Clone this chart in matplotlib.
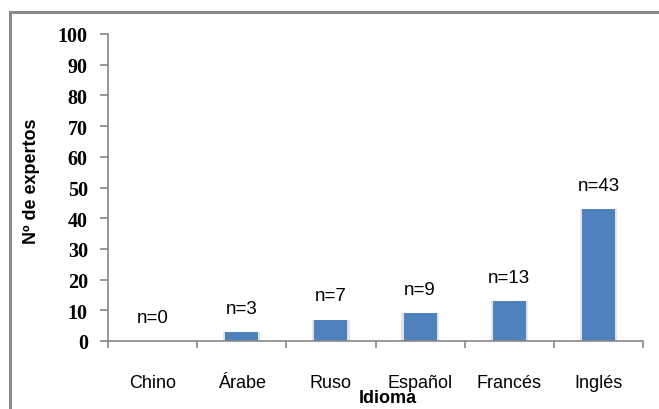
import matplotlib
matplotlib.use("Agg")
import matplotlib.pyplot as plt
from matplotlib.lines import Line2D

idiomas = ["Chino", "Árabe", "Ruso", "Español", "Francés", "Inglés"]
expertos = [0, 3, 7, 9, 13, 43]
etiquetas = [f"n={v}" for v in expertos]

BAR_COLOR = "#4F81BD"
AXIS_COLOR = "#868686"
W, H = 659, 410

fig = plt.figure(figsize=(W / 100, H / 100), dpi=100)
ax = fig.add_axes([108 / W, 68 / H, 535 / W, 307 / H])

x = range(len(idiomas))
# soft shadow behind the bars
ax.bar(x, expertos, width=0.42, color="#e4e4e4", zorder=1)
ax.bar(x, expertos, width=0.37, color=BAR_COLOR, zorder=2)

for i, (v, lab) in enumerate(zip(expertos, etiquetas)):
    ax.annotate(lab, (i, v), xytext=(0, 17), textcoords="offset points",
                ha="center", va="center", fontsize=13.5, family="Liberation Sans")

ax.set_xlim(-0.5, len(idiomas) - 0.5)
ax.set_ylim(0, 100)
ax.set_yticks(range(0, 101, 10))
ax.set_yticklabels([str(t) for t in range(0, 101, 10)],
                   family="Liberation Serif", fontweight="bold", fontsize=14.5)

ax.set_xticks(list(x))
ax.set_xticklabels(idiomas, family="Liberation Sans", fontsize=13)
ax.tick_params(axis="x", which="major", length=0, pad=24)
ax.set_xticks([i - 0.5 for i in range(len(idiomas) + 1)], minor=True)
ax.tick_params(axis="x", which="minor", length=5, color=AXIS_COLOR, width=1.2)
ax.tick_params(axis="y", length=5.5, color=AXIS_COLOR, width=1.2, pad=9)

for s in ("top", "right"):
    ax.spines[s].set_visible(False)
for s in ("left", "bottom"):
    ax.spines[s].set_color(AXIS_COLOR)
    ax.spines[s].set_linewidth(1.2)

fig.text(31 / W, 1 - 181 / H, "Nº de expertos", rotation=90, ha="center", va="center",
         family="Liberation Sans", fontweight="bold", fontsize=13)
fig.text(388 / W, 1 - 399 / H, "Idioma", ha="center", va="center",
         family="Liberation Sans", fontweight="bold", fontsize=13)

# outer chart border (left and top edges visible)
x0, y0 = 10 / W, 1 - 13 / H
fig.add_artist(Line2D([x0, x0], [0, y0], color="#8a8a8a", lw=2.2, transform=fig.transFigure))
fig.add_artist(Line2D([x0, 1], [y0, y0], color="#8a8a8a", lw=2.2, transform=fig.transFigure))

fig.savefig("out.png", dpi=100)
